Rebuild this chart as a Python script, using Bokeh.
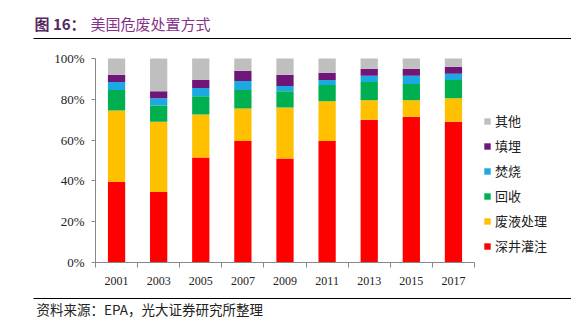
from bokeh.plotting import figure
from bokeh.models import (ColumnDataSource, FixedTicker, PrintfTickFormatter,
                          Legend, LegendItem, Range1d, LinearAxis)
from bokeh.core.properties import value
from bokeh.embed import file_html
from bokeh.resources import INLINE

years = ["2001", "2003", "2005", "2007", "2009", "2011", "2013", "2015", "2017"]
deep_well = [39.5, 34.5, 51.5, 59.5, 51, 59.5, 70, 71.5, 69]
wastewater = [35, 34.5, 21, 16, 25, 19.5, 9.5, 8, 11.5]
recovery = [10, 8, 9, 9, 8, 8, 9, 8, 9]
incineration = [4, 3.5, 4, 4.5, 2.5, 2.5, 3, 4, 3]
landfill = [3.5, 3.5, 4, 5, 5.5, 3.5, 3.5, 3.5, 3.5]
other = [8, 16, 10.5, 6, 8, 7, 5, 5, 4]

series_names = ["深井灌注", "废液处理", "回收", "焚烧", "填埋", "其他"]
series_keys = ["deep_well", "wastewater", "recovery", "incineration", "landfill", "other"]
colors = ["#FF0000", "#FFC000", "#00B050", "#1CA8E0", "#701678", "#BFBFBF"]
y_ticks = [0, 20, 40, 60, 80, 100]

title_prefix = "图 16："
title_text = "美国危废处置方式"
source_text = "资料来源：EPA，光大证券研究所整理"

W, H = 571, 331
# plot area in canvas pixels (from top-left)
PL, PR, PT, PB = 95, 474, 58, 262
N = len(years)
YMAX = 100

CJK = "Noto Sans CJK SC"
serif = "Liberation Serif"

# page coordinates (pixels, y downwards) for the decorations
p = figure(width=W, height=H, output_backend="svg", toolbar_location=None,
           x_range=Range1d(0, W), y_range=Range1d(H, 0),
           x_axis_type=None, y_axis_type=None, min_border=0)
p.min_border_left = p.min_border_right = p.min_border_top = p.min_border_bottom = 0
p.outline_line_color = None
p.xgrid.visible = False
p.ygrid.visible = False

# data ranges mapped onto the plot area
xs = (PR - PL) / N
ys = (PB - PT) / YMAX
p.extra_x_ranges = {"bx": Range1d(-PL / xs, N + (W - PR) / xs)}
p.extra_y_ranges = {"by": Range1d(-(H - PB) / ys, YMAX + PT / ys)}

pos = [i + 0.5 for i in range(N)]
src = ColumnDataSource(dict(x=pos, deep_well=deep_well, wastewater=wastewater,
                            recovery=recovery, incineration=incineration,
                            landfill=landfill, other=other))
rs = p.vbar_stack(series_keys, x="x", width=0.41, color=colors, source=src,
                  line_color=None, x_range_name="bx", y_range_name="by")

xa = LinearAxis(x_range_name="bx", y_range_name="by", fixed_location=0, bounds=(0, N))
xa.ticker = FixedTicker(ticks=pos, minor_ticks=list(range(N + 1)))
xa.major_label_overrides = {pos[i]: years[i] for i in range(N)}
xa.major_tick_out = 0
xa.major_tick_in = 0
xa.minor_tick_out = 5
xa.minor_tick_in = 0
xa.axis_line_color = "#888888"
xa.minor_tick_line_color = "#888888"
xa.major_label_text_font = serif
xa.major_label_text_font_size = "12px"
xa.major_label_text_color = "#222222"
xa.major_label_standoff = 9
p.add_layout(xa, "below")

ya = LinearAxis(x_range_name="bx", y_range_name="by", fixed_location=0, bounds=(0, YMAX))
ya.ticker = FixedTicker(ticks=y_ticks)
ya.formatter = PrintfTickFormatter(format="%d%%")
ya.major_tick_out = 4
ya.major_tick_in = 0
ya.minor_tick_line_color = None
ya.axis_line_color = "#888888"
ya.major_tick_line_color = "#888888"
ya.major_label_text_font = serif
ya.major_label_text_font_size = "13px"
ya.major_label_text_color = "#222222"
ya.major_label_standoff = 7
p.add_layout(ya, "left")

items = [LegendItem(label=series_names[i], renderers=[rs[i]]) for i in reversed(range(len(rs)))]
legend = Legend(items=items, location=(483, 76), padding=0, margin=0,
                glyph_width=8, glyph_height=8, label_standoff=4,
                label_text_font=CJK, label_text_font_size="13px",
                label_text_color="#222222", label_height=16, spacing=6,
                border_line_color=None, background_fill_alpha=0)
p.add_layout(legend)

# title
p.text(x=[34], y=[23], text=[title_prefix], text_font=value(CJK),
       text_font_style="bold", text_font_size="15px", text_color="#55285F",
       text_baseline="middle")
p.text(x=[90], y=[23], text=[title_text], text_font=value(CJK),
       text_font_size="15px", text_color="#86308A", text_baseline="middle")
p.segment(x0=[33], y0=[38], x1=[W], y1=[38], line_color="black", line_width=1)

# source
p.segment(x0=[33], y0=[298], x1=[W], y1=[298], line_color="black", line_width=1)
p.text(x=[36], y=[308], text=[source_text], text_font=value(CJK),
       text_font_size="13.5px", text_color="#222222", text_baseline="middle")

open("out.html", "w").write(file_html(p, INLINE))
